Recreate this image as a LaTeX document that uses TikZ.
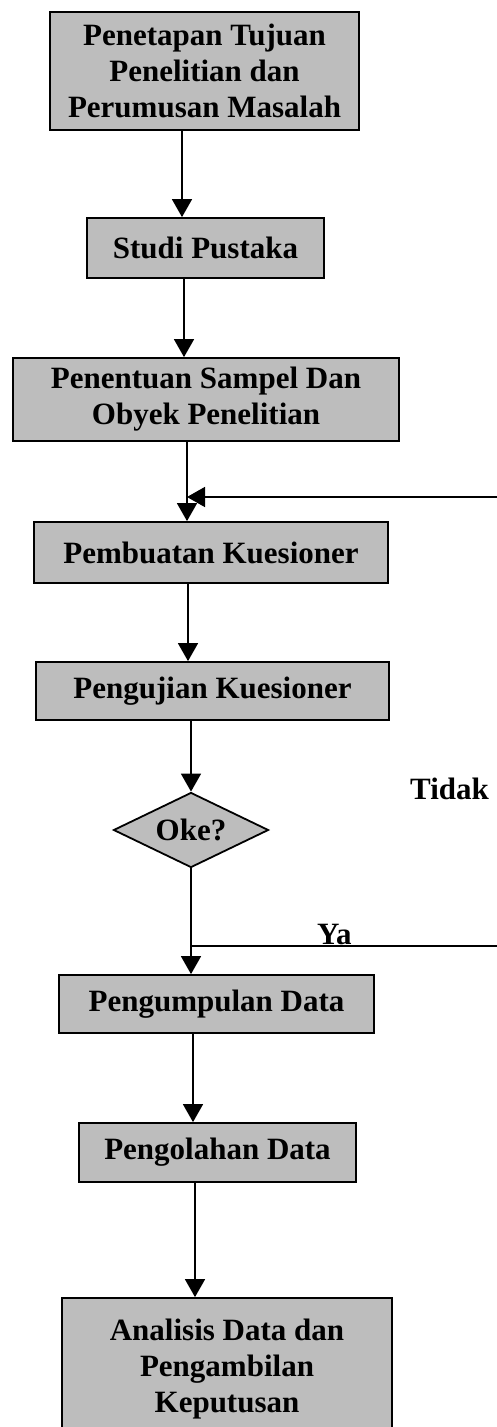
\documentclass[tikz,border=0pt]{standalone}
\usepackage{fontspec}
\setmainfont{Liberation Serif}
\usetikzlibrary{arrows.meta,shapes.geometric}
\definecolor{boxfill}{gray}{0.74}
\tikzset{
  x=1pt, y=-1pt,
  every node/.style={font=\fontsize{31}{36}\selectfont\bfseries},
  flowbox/.style={draw=black, line width=1.8pt, fill=boxfill, rectangle, align=center, inner sep=0pt},
  decision/.style={draw=black, line width=1.8pt, fill=boxfill, diamond, aspect=2.07, inner sep=0pt, minimum width=155pt, minimum height=75pt},
  conn/.style={line width=1.6pt, draw=black},
  arr/.style={conn, -{Triangle[width=20pt,length=18pt]}},
  lbl/.style={inner sep=0pt}
}
\begin{document}
\begin{tikzpicture}
\useasboundingbox (0,0) rectangle (496,1427);

\node[flowbox, minimum width=309pt, minimum height=118pt] (b1) at (204.5,71) {Penetapan Tujuan\\Penelitian dan\\Perumusan Masalah};
\node[flowbox, minimum width=237pt, minimum height=60pt] (b2) at (205.5,248) {Studi Pustaka};
\node[flowbox, minimum width=386pt, minimum height=83pt] (b3) at (206,399.5) {Penentuan Sampel Dan\\Obyek Penelitian};
\node[flowbox, minimum width=354pt, minimum height=61pt] (b4) at (211,552.5) {Pembuatan Kuesioner};
\node[flowbox, minimum width=353pt, minimum height=58pt] (b5) at (212.5,691) {Pengujian Kuesioner};
\node[decision] (d) at (191,830) {Oke?};
\node[flowbox, minimum width=315pt, minimum height=58pt] (b6) at (216.5,1004) {Pengumpulan Data};
\node[flowbox, minimum width=277pt, minimum height=59pt] (b7) at (217.5,1152.5) {Pengolahan Data};
\node[flowbox, minimum width=330pt, minimum height=142pt] (b8) at (227,1369) {Analisis Data dan\\Pengambilan\\Keputusan};

\node[lbl, anchor=base west] (tidak) at (410,799) {Tidak};
\node[lbl, anchor=base west] (ya) at (317,944) {Ya};

% x positions of the vertical connectors
\coordinate (c1) at (182,0);
\coordinate (c2) at (184,0);
\coordinate (c3) at (187,0);
\coordinate (c4) at (188,0);
\coordinate (c6) at (193,0);
\coordinate (c7) at (195,0);

% loop coordinates
\coordinate (jt) at (187,497);
\coordinate (jy) at (192,946);
\coordinate (rt) at (500,497);
\coordinate (rb) at (500,946);

\draw[arr] (b1.south -| c1) -- (b2.north -| c1);
\draw[arr] (b2.south -| c2) -- (b3.north -| c2);
\draw[arr] (b3.south -| c3) -- (b4.north -| c3);
\draw[arr] (b4.south -| c4) -- (b5.north -| c4);
\draw[arr] (b5.south -| d.north) -- (d.north);
\draw[arr] (d.south) -- (b6.north -| d.south);
\draw[arr] (b6.south -| c6) -- (b7.north -| c6);
\draw[arr] (b7.south -| c7) -- (b8.north -| c7);

\draw[conn] (jy) -- (rb) -- (rt);
\draw[arr] (rt) -- (jt);
\end{tikzpicture}
\end{document}
